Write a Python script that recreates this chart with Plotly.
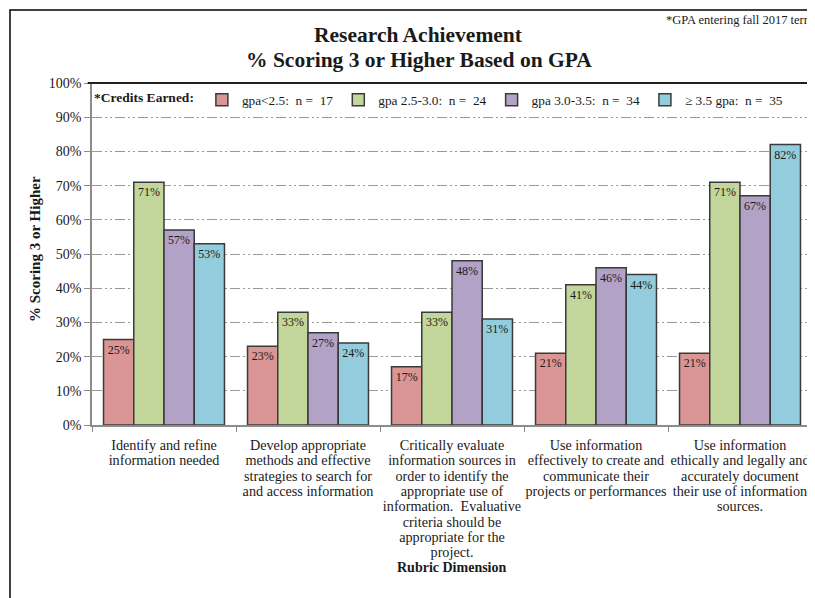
import plotly.graph_objects as go

# rubric dimensions (x categories), one label line per list entry
categories = [
    ["Identify and refine", "information needed"],
    ["Develop appropriate", "methods and effective", "strategies to search for", "and access information"],
    ["Critically evaluate", "information sources in", "order to identify the", "appropriate use of",
     "information.\u00a0 Evaluative", "criteria should be", "appropriate for the", "project."],
    ["Use information", "effectively to create and", "communicate their", "projects or performances"],
    ["Use information", "ethically and legally and", "accurately document", "their use of information", "sources."],
]

series_names = [
    "gpa<2.5:\u00a0 n =\u00a0 17",
    "gpa 2.5-3.0:\u00a0 n =\u00a0 24",
    "gpa 3.0-3.5:\u00a0 n =\u00a0 34",
    "\u2265 3.5 gpa:\u00a0 n =\u00a0 35",
]

gpa_lt_25 = [0.25, 0.23, 0.17, 0.21, 0.21]
gpa_25_30 = [0.71, 0.33, 0.33, 0.41, 0.71]
gpa_30_35 = [0.57, 0.27, 0.48, 0.46, 0.67]
gpa_ge_35 = [0.53, 0.24, 0.31, 0.44, 0.82]

colors = ["#D99694", "#C3D69B", "#B3A2C7", "#93CDDD"]

FONT = "Liberation Serif, Times New Roman, serif"

x_keys = ["<br>".join(lines) for lines in categories]
# wider glyphs than the tight line spacing would give
x_text = ["<br>".join(f"<span style='font-size:14.2px'>{ln}</span>" for ln in lines)
          for lines in categories]

fig = go.Figure()
for name, vals, col in zip(series_names, [gpa_lt_25, gpa_25_30, gpa_30_35, gpa_ge_35], colors):
    fig.add_trace(go.Bar(
        x=x_keys,
        y=vals,
        name=name,
        marker=dict(color=col, line=dict(color="#3a3a3a", width=1.5)),
        texttemplate="%{y:.0%}",
        textposition="inside",
        insidetextanchor="end",
        textfont=dict(size=12, color="#1a1a1a", family=FONT),
        constraintext="none",
    ))

# chart frame, plot area top/right border
fig.add_shape(type="rect", xref="paper", yref="paper",
              x0=-0.1139, x1=1.3, y0=-0.8, y1=1.2135,
              line=dict(color="black", width=1.5), layer="below")
fig.add_shape(type="line", xref="paper", yref="paper", x0=-0.006, x1=1, y0=1, y1=1,
              line=dict(color="#202020", width=2))
fig.add_shape(type="line", xref="paper", yref="paper", x0=1, x1=1, y0=0, y1=1,
              line=dict(color="#404040", width=1.5))

# page body has an 8px margin, so the figure is 8px smaller each way
fig.update_layout(
    width=807, height=590,
    margin=dict(l=84, r=3, t=75, b=173),
    paper_bgcolor="white", plot_bgcolor="white",
    font=dict(family=FONT, color="#1a1a1a", size=13),
    barmode="group", bargap=0.16, bargroupgap=0,
    showlegend=True,
    legend=dict(
        orientation="h", x=0.0, y=0.995, xanchor="left", yanchor="top",
        title=dict(text="<b>*Credits Earned:</b>", side="left", font=dict(size=13.5)),
        font=dict(size=13.3, family=FONT), bgcolor="white",
        itemwidth=30, tracegroupgap=0,
    ),
    annotations=[
        dict(text="<b>Research Achievement</b>", xref="paper", yref="paper",
             x=0.454, y=1.1404, xanchor="center", yanchor="middle",
             showarrow=False, font=dict(size=21.5)),
        dict(text="<b>% Scoring 3 or Higher Based on GPA</b>", xref="paper", yref="paper",
             x=0.454, y=1.0673, xanchor="center", yanchor="middle",
             showarrow=False, font=dict(size=21.5)),
        dict(text="*GPA entering fall 2017 term", xref="paper", yref="paper",
             x=0.794, y=1.1842, xanchor="left", yanchor="middle",
             showarrow=False, font=dict(size=12.5)),
        dict(text="<b>% Scoring 3 or Higher</b>", xref="paper", yref="paper",
             x=-0.0792, y=0.5146, xanchor="center", yanchor="middle", textangle=-90,
             showarrow=False, font=dict(size=15)),
        dict(text="<b>Rubric Dimension</b>", xref="paper", yref="paper",
             x=0.5, y=-0.418, xanchor="center", yanchor="middle",
             showarrow=False, font=dict(size=14)),
    ],
)

fig.update_yaxes(
    range=[0, 1], dtick=0.1, tickformat=".0%",
    showline=True, linecolor="#8c8c8c", linewidth=1.5,
    ticks="outside", ticklen=6, tickcolor="#8c8c8c",
    tickfont=dict(size=14),
    showgrid=True, gridcolor="#9a9a9a", gridwidth=1,
    griddash="10px,3px,2px,3px,2px,3px",
    zeroline=False,
)
fig.update_xaxes(
    tickvals=x_keys, ticktext=x_text,
    showline=True, linecolor="#8c8c8c", linewidth=1.5,
    ticks="outside", ticklen=5, tickcolor="#8c8c8c", tickson="boundaries",
    tickangle=0, tickfont=dict(size=11.8), ticklabelstandoff=9,
    showgrid=False,
)

fig.write_html("out.html")
